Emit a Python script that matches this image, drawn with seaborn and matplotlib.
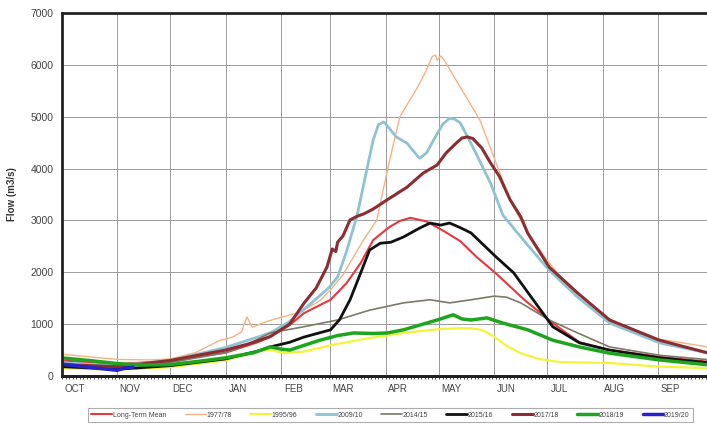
import matplotlib
matplotlib.use("Agg")
import matplotlib.pyplot as plt
import seaborn as sns
import pandas as pd
import numpy as np

# ---- data (day offset from 1 Oct, flow m3/s) ----
months = ["OCT", "NOV", "DEC", "JAN", "FEB", "MAR", "APR", "MAY", "JUN", "JUL", "AUG", "SEP"]
month_start = [0, 31, 61, 92, 123, 151, 182, 212, 243, 273, 304, 335, 365]

ltm_day = [0, 31, 61, 92, 110, 117, 128, 136, 151, 160, 168, 175, 184, 190, 196, 205, 214, 224, 233, 244, 260, 276, 291, 308, 336, 365]
ltm_val = [300, 230, 290, 450, 650, 750, 980, 1210, 1470, 1790, 2180, 2620, 2870, 2990, 3050, 2980, 2810, 2600, 2300, 1980, 1470, 1020, 650, 500, 370, 270]

y7778_day = [0, 15, 31, 50, 61, 75, 89, 96, 101, 104, 107, 115, 124, 134, 145, 151, 158, 164, 170, 177, 183, 190, 200, 205, 208, 210, 211, 213, 215, 220, 225, 235, 245, 252, 262, 274, 290, 306, 329, 365]
y7778_val = [420, 370, 320, 310, 330, 450, 690, 750, 850, 1140, 940, 1050, 1140, 1230, 1450, 1660, 1950, 2300, 2650, 3000, 3970, 5000, 5570, 5900, 6150, 6190, 6090, 6170, 6090, 5800, 5510, 4940, 4030, 3390, 2750, 2180, 1520, 1080, 750, 550]

y9596_day = [0, 31, 61, 92, 110, 117, 125, 136, 152, 171, 192, 211, 222, 230, 236, 239, 243, 250, 258, 268, 280, 308, 336, 365]
y9596_val = [150, 120, 170, 300, 480, 500, 440, 470, 600, 720, 830, 900, 920, 920, 890, 840, 760, 580, 440, 330, 270, 250, 180, 150]

y0910_day = [0, 31, 61, 92, 110, 117, 128, 140, 150, 155, 160, 166, 171, 175, 178, 181, 184, 188, 194, 201, 205, 209, 214, 218, 221, 224, 231, 241, 248, 261, 274, 290, 308, 336, 365]
y0910_val = [250, 200, 300, 550, 750, 830, 1050, 1400, 1700, 1910, 2400, 3100, 3910, 4550, 4850, 4900, 4780, 4610, 4490, 4200, 4300, 4550, 4850, 4970, 4950, 4880, 4420, 3720, 3100, 2560, 2040, 1520, 1020, 640, 430]

y1415_day = [0, 31, 61, 92, 105, 117, 136, 155, 173, 192, 207, 218, 230, 243, 250, 258, 274, 290, 308, 336, 365]
y1415_val = [230, 180, 260, 450, 620, 830, 950, 1080, 1270, 1410, 1470, 1410, 1470, 1540, 1520, 1410, 1080, 830, 560, 400, 310]

y1516_day = [0, 31, 61, 92, 110, 117, 128, 136, 151, 156, 162, 168, 173, 179, 185, 192, 201, 207, 213, 218, 224, 230, 244, 254, 265, 276, 291, 308, 336, 365]
y1516_val = [180, 130, 200, 330, 480, 560, 650, 750, 890, 1080, 1470, 1990, 2430, 2560, 2580, 2680, 2850, 2950, 2910, 2950, 2860, 2760, 2300, 1990, 1470, 950, 640, 500, 350, 250]

y1718_day = [0, 31, 61, 92, 105, 117, 128, 136, 143, 149, 152, 154, 155, 158, 162, 166, 170, 175, 183, 194, 203, 211, 216, 222, 225, 228, 231, 236, 241, 246, 252, 258, 262, 274, 290, 308, 336, 365]
y1718_val = [220, 180, 300, 500, 620, 760, 1000, 1400, 1700, 2100, 2450, 2400, 2580, 2700, 3010, 3080, 3130, 3220, 3400, 3640, 3910, 4070, 4300, 4500, 4590, 4610, 4580, 4400, 4110, 3850, 3400, 3070, 2750, 2100, 1600, 1080, 690, 430]

y1819_day = [0, 15, 31, 46, 61, 76, 92, 108, 117, 123, 128, 145, 155, 164, 175, 183, 192, 201, 211, 220, 225, 230, 239, 248, 262, 276, 291, 308, 336, 365]
y1819_val = [350, 300, 240, 210, 220, 280, 350, 450, 560, 520, 500, 690, 780, 830, 820, 830, 890, 980, 1080, 1180, 1100, 1080, 1120, 1020, 890, 690, 560, 440, 310, 210]

y1920_day = [0, 10, 20, 31, 35, 40]
y1920_val = [230, 190, 150, 110, 150, 170]

series = [
    ("Long-Term Mean", ltm_day, ltm_val, "#e8363f", 1.5),
    ("1977/78", y7778_day, y7778_val, "#f6b283", 1.0),
    ("1995/96", y9596_day, y9596_val, "#f3f33a", 1.6),
    ("2009/10", y0910_day, y0910_val, "#8ec3d4", 2.0),
    ("2014/15", y1415_day, y1415_val, "#7c7a66", 1.2),
    ("2015/16", y1516_day, y1516_val, "#111111", 2.0),
    ("2017/18", y1718_day, y1718_val, "#8c2d32", 2.2),
    ("2018/19", y1819_day, y1819_val, "#1ea51e", 2.5),
    ("2019/20", y1920_day, y1920_val, "#2424cc", 2.5),
]

sns.set_theme(style="white")
plt.rcParams["font.family"] = ["Liberation Sans", "DejaVu Sans"]

fig = plt.figure(figsize=(7.07, 4.24), dpi=100)
ax = fig.add_axes([62 / 707, 48 / 424, (711 - 62) / 707, (376 - 13) / 424])

for name, d, v, c, lw in series:
    df = pd.DataFrame({"day": d, "flow": v})
    sns.lineplot(data=df, x="day", y="flow", ax=ax, color=c, linewidth=lw, label=name)

ax.set_xlim(0, 365)
ax.set_ylim(0, 7000)

# grid at month starts and 1000s
ax.set_xticks(month_start, minor=True)
ax.set_yticks(range(0, 7001, 1000))
ax.grid(True, which="minor", axis="x", color="#9a9a9a", linewidth=0.7)
ax.grid(True, which="major", axis="y", color="#9a9a9a", linewidth=0.7)
ax.tick_params(axis="x", which="minor", length=0)

label_pos = [s + 7 for s in month_start[:-1]]
ax.set_xticks(label_pos)
ax.set_xticklabels(months)
ax.tick_params(axis="x", which="major", length=0, pad=6, labelsize=7, labelcolor="#444444")
ax.tick_params(axis="y", length=0, pad=6, labelsize=7.5, labelcolor="#444444")

# daily tick marks along the bottom
sec = ax.secondary_xaxis("bottom")
sec.set_xticks(np.arange(0, 366, 2))
sec.tick_params(direction="out", length=2.5, width=0.6, color="#333333", labelbottom=False)
sec.spines["bottom"].set_linewidth(2)
sec.spines["bottom"].set_color("#222222")

for side in ["left", "top", "bottom"]:
    ax.spines[side].set_linewidth(2)
    ax.spines[side].set_color("#222222")
ax.spines["right"].set_visible(False)

ax.set_xlabel("")
ax.set_ylabel("Flow (m3/s)", fontsize=7, fontweight="bold", color="#333333", labelpad=10)

handles, labels = ax.get_legend_handles_labels()
ax.get_legend().remove()
leg = fig.legend(handles, labels, loc="lower left", bbox_to_anchor=(88 / 707, 2 / 424),
                 ncol=9, fontsize=5, frameon=True, fancybox=False, edgecolor="#999999",
                 handlelength=3.0, handletextpad=0.1, columnspacing=2.65, borderaxespad=0,
                 borderpad=0.5, labelcolor="#444444")
leg.get_frame().set_linewidth(0.8)

fig.savefig("out.png", dpi=100)
